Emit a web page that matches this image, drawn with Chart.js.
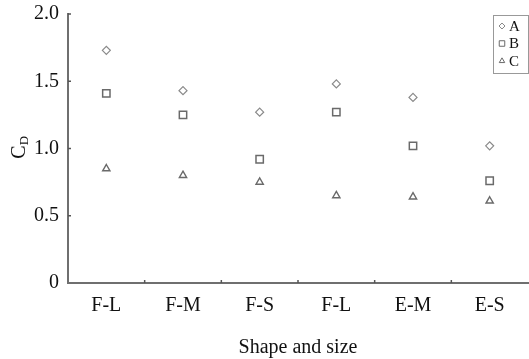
<!DOCTYPE html>
<html lang="en">
<head>
    <meta charset="UTF-8">
    <title>Shape and size</title>
    <style>
        body {
            margin: 0;
            background: #fff;
        }
        .chart-box {
            width: 529px;
            height: 359px;
        }
    </style>
    <script src="https://cdn.jsdelivr.net/npm/chart.js"></script>
</head>
<body>
    <div class="chart-box">
        <canvas id="cdChart"></canvas>
    </div>
    <script>
        const categories = ['F-L', 'F-M', 'F-S', 'F-L', 'E-M', 'E-S'];
        const seriesA = [1.73, 1.43, 1.27, 1.48, 1.38, 1.02];
        const seriesB = [1.41, 1.25, 0.92, 1.27, 1.02, 0.76];
        const seriesC = [0.85, 0.80, 0.75, 0.65, 0.64, 0.61];
        const yTickLabels = ['0', '0.5', '1.0', '1.5', '2.0'];

        const serif = '"Liberation Serif", "DejaVu Serif", serif';
        const axisGrey = '#6f6f6f';

        // inward tick marks, C_D axis title and boxed legend
        const extrasPlugin = {
            id: 'extras',
            afterDraw(chart) {
                const ctx = chart.ctx;
                const area = chart.chartArea;
                const x = chart.scales.x;
                const y = chart.scales.y;
                ctx.save();
                ctx.strokeStyle = '#555';
                ctx.lineWidth = 1.5;
                y.ticks.forEach(t => {
                    if (t.value === 0) return;
                    const py = y.getPixelForValue(t.value);
                    ctx.beginPath();
                    ctx.moveTo(area.left, py);
                    ctx.lineTo(area.left + 3, py);
                    ctx.stroke();
                });
                for (let i = 1; i < categories.length; i++) {
                    const px = (x.getPixelForValue(i - 1) + x.getPixelForValue(i)) / 2;
                    ctx.beginPath();
                    ctx.moveTo(px, area.bottom);
                    ctx.lineTo(px, area.bottom - 3);
                    ctx.stroke();
                }

                // y title
                ctx.fillStyle = '#111';
                ctx.translate(20, 148);
                ctx.rotate(-Math.PI / 2);
                ctx.textBaseline = 'middle';
                ctx.textAlign = 'left';
                ctx.font = '20px ' + serif;
                const cw = ctx.measureText('C').width;
                ctx.fillText('C', -cw / 2 - 4, 0);
                ctx.font = '13px ' + serif;
                ctx.fillText('D', cw / 2 - 4, 5);
                ctx.setTransform(1, 0, 0, 1, 0, 0);

                // legend
                const bx = area.right - 35, by = 15, bw = 35, bh = 58;
                ctx.strokeStyle = '#999';
                ctx.lineWidth = 1;
                ctx.strokeRect(bx + 0.5, by + 0.5, bw, bh);
                ctx.font = '15px ' + serif;
                ctx.textAlign = 'left';
                ctx.textBaseline = 'middle';
                chart.data.datasets.forEach((ds, i) => {
                    const cy = by + 11 + i * 17.5;
                    ctx.strokeStyle = ds.borderColor;
                    ctx.fillStyle = '#fff';
                    ctx.lineWidth = 1;
                    Chart.helpers.drawPoint(ctx, {
                        pointStyle: ds.pointStyle,
                        radius: ds.pointRadius * 0.75,
                        borderWidth: 1
                    }, bx + 9, cy);
                    ctx.fillStyle = '#111';
                    ctx.fillText(ds.label, bx + 16, cy + 1);
                });
                ctx.restore();
            }
        };

        const ctx = document.getElementById('cdChart').getContext('2d');
        new Chart(ctx, {
            type: 'line',
            data: {
                labels: categories,
                datasets: [
                    {
                        label: 'A',
                        data: seriesA,
                        showLine: false,
                        pointStyle: 'rectRot',
                        pointRadius: 4,
                        borderColor: '#8a8a8a',
                        backgroundColor: '#fff',
                        pointBorderWidth: 1.2
                    },
                    {
                        label: 'B',
                        data: seriesB,
                        showLine: false,
                        pointStyle: 'rect',
                        pointRadius: 5.2,
                        borderColor: '#6a6a6a',
                        backgroundColor: '#fff',
                        pointBorderWidth: 1.5
                    },
                    {
                        label: 'C',
                        data: seriesC,
                        showLine: false,
                        pointStyle: 'triangle',
                        pointRadius: 4.2,
                        borderColor: '#6a6a6a',
                        backgroundColor: '#fff',
                        pointBorderWidth: 1.4
                    }
                ]
            },
            options: {
                responsive: true,
                maintainAspectRatio: false,
                animation: false,
                layout: { autoPadding: false, padding: { left: 0, top: 14, right: 1, bottom: 0 } },
                plugins: {
                    legend: { display: false },
                    tooltip: { enabled: false }
                },
                scales: {
                    x: {
                        type: 'category',
                        offset: true,
                        afterFit(scale) {
                            scale.height = 76;
                            scale.paddingLeft = 0;
                            scale.paddingRight = 0;
                        },
                        grid: { display: false, drawTicks: false },
                        border: { display: true, color: axisGrey, width: 2 },
                        ticks: {
                            color: '#111',
                            padding: 11,
                            font: { family: serif, size: 20 }
                        },
                        title: {
                            display: true,
                            text: 'Shape and size',
                            color: '#111',
                            font: { family: serif, size: 20, lineHeight: 1 },
                            padding: { top: 0, bottom: 1 }
                        }
                    },
                    y: {
                        min: 0,
                        max: 2,
                        afterFit(scale) {
                            scale.width = 68;
                            scale.paddingTop = 0;
                        },
                        grid: { display: false, drawTicks: false },
                        border: { display: true, color: axisGrey, width: 2 },
                        ticks: {
                            stepSize: 0.5,
                            color: '#111',
                            padding: 9,
                            font: { family: serif, size: 20 },
                            callback: (v) => yTickLabels[Math.round(v / 0.5)]
                        }
                    }
                }
            },
            plugins: [extrasPlugin]
        });
    </script>
</body>
</html>
